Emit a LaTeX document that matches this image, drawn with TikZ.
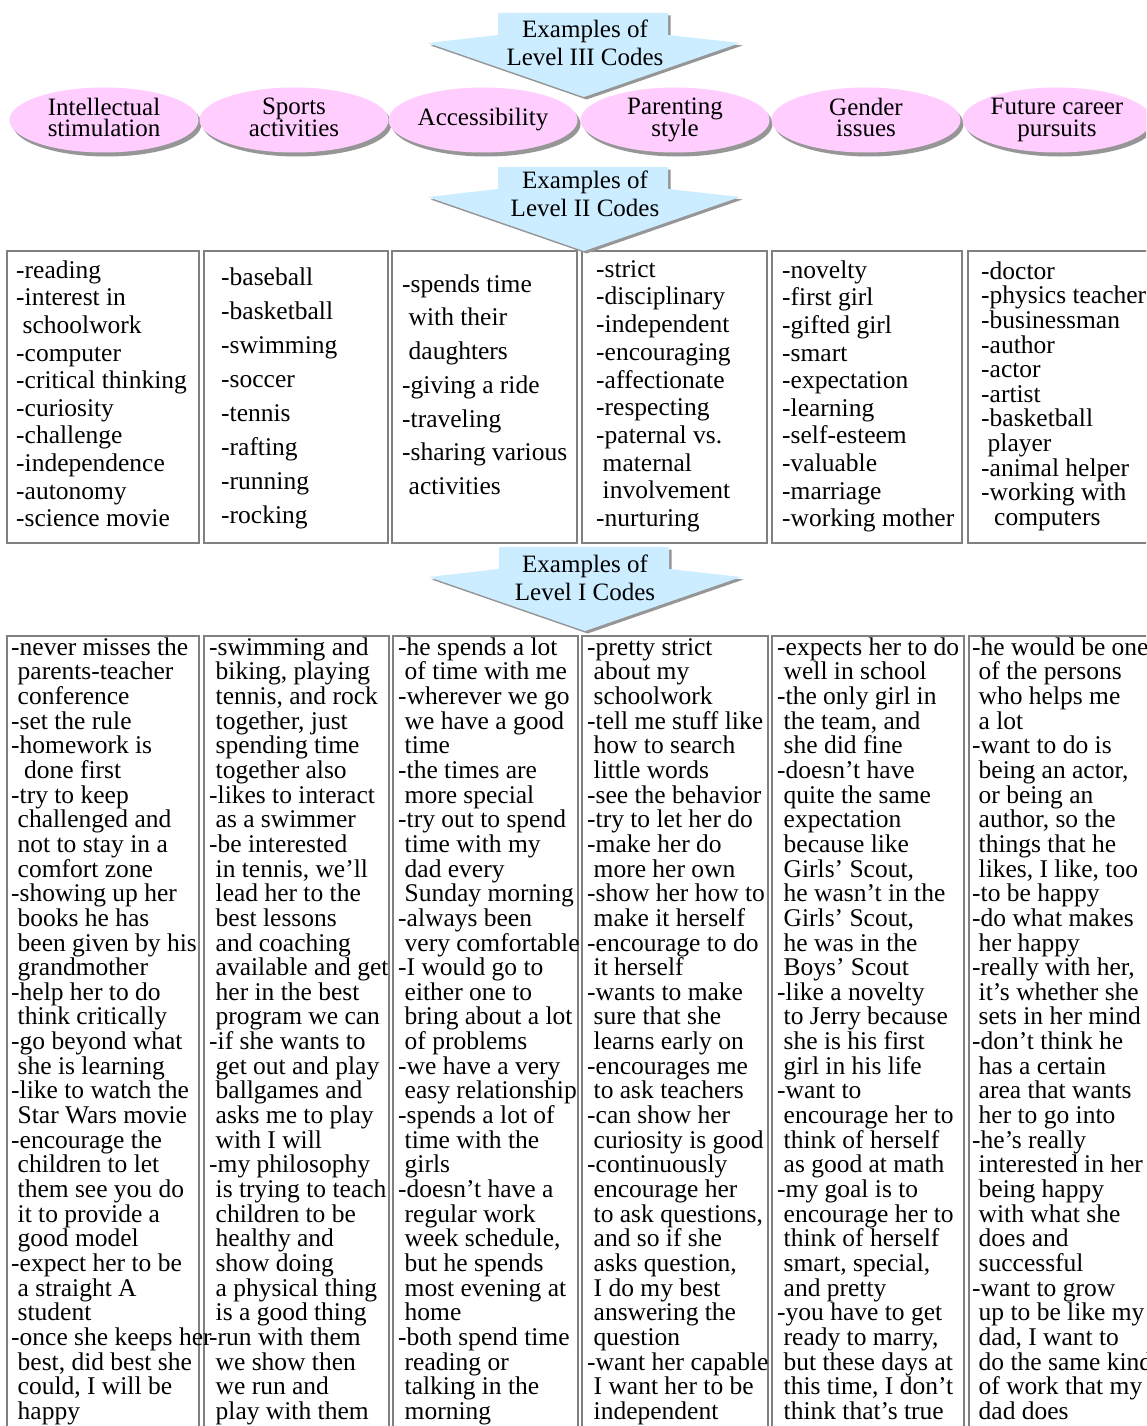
\documentclass[tikz,border=0pt]{standalone}
\usepackage{fontspec}
\setmainfont{Liberation Serif}
\usetikzlibrary{shapes.geometric,shadows}

\definecolor{catpink}{RGB}{255,206,255}
\definecolor{arrowblue}{RGB}{204,236,255}
\definecolor{boxgray}{RGB}{128,128,128}
\definecolor{shadegray}{RGB}{150,150,150}

% fonts: size 25/25.5 with a fixed baseline distance
\newcommand\catfont{\fontsize{25}{21.5}\selectfont\lineskiplimit=-100pt\relax}
\newcommand\headfont{\fontsize{25}{28}\selectfont\lineskiplimit=-100pt\relax}
\newcommand\codefont[1]{\fontsize{25.5}{#1}\selectfont\lineskiplimit=-100pt\relax}
% leading space of a continued line
\newcommand\indsp{\hspace*{6.5pt}}
% first-line strut: the node top lies 20pt above the first baseline
\newcommand\firstline{\rule{0pt}{20pt}}
% common depth for the last line of a category label
\newcommand\lastline{\rule[-5.5pt]{0pt}{0pt}}

\tikzset{
  lvlbox/.style={draw=boxgray, line width=2.5pt},
  codes/.style={anchor=north west, inner sep=0pt, align=left, font={\codefont{#1}}},
  cat/.style={ellipse, fill=catpink, minimum width=189pt, minimum height=65pt,
    inner sep=0pt, align=center, font=\catfont,
    copy shadow={shadow xshift=3pt, shadow yshift=-4pt, fill=shadegray, draw=none}},
  headtext/.style={anchor=north, inner sep=0pt, align=center, font=\headfont},
  levelarrow/.pic={
    \fill[shadegray] (2.5,2.5) -- (172.5,2.5) -- (172.5,24.5) -- (244.5,32.5)
      -- (88.5,86.5) -- (-67.5,32.5) -- (2.5,24.5) -- cycle;
    \fill[arrowblue] (0,0) -- (170,0) -- (170,22) -- (242,30)
      -- (86,84) -- (-70,30) -- (0,22) -- cycle;
  },
}

\begin{document}
\begin{tikzpicture}[x=1pt,y=-1pt]
\useasboundingbox (0,0) rectangle (1146,1426);
\clip (0,0) rectangle (1146,1426);
\fill[white] (0,0) rectangle (1146,1426);

% ---- Level III codes ----
\pic at (498,13) {levelarrow};
\node[headtext] (h3) at (585,17) {\firstline Examples of\\Level III Codes};

\node[cat] (c1) at (104,120) {Intellectual\\stimulation\lastline};
\node[cat] (c2) at (294,120) {Sports\\activities\lastline};
\node[cat] (c3) at (483,120) {Accessibility};
\node[cat] (c4) at (675,120) {Parenting\\style\lastline};
\node[cat] (c5) at (866,120) {Gender\\issues\lastline};
\node[cat] (c6) at (1057,120) {Future career\\pursuits\lastline};

% ---- Level II codes ----
\draw[lvlbox] (7,251) rectangle (199,543);
\draw[lvlbox] (204,251) rectangle (388,543);
\draw[lvlbox] (392,251) rectangle (577,543);
\draw[lvlbox] (582,251) rectangle (767,543);
\draw[lvlbox] (772,251) rectangle (962,543);
\draw[lvlbox] (968,251) rectangle (1170,543);

\pic at (498,167) {levelarrow};
\node[headtext] (h2) at (585,168) {\firstline Examples of\\Level II Codes};

\node[codes=27.6] (b1) at (16,258) {\firstline -reading\\-interest in\\\indsp schoolwork\\-computer\\-critical thinking\\-curiosity\\-challenge\\-independence\\-autonomy\\-science movie};
\node[codes=34] (b2) at (221,265) {\firstline -baseball\\-basketball\\-swimming\\-soccer\\-tennis\\-rafting\\-running\\-rocking};
\node[codes=33.7] (b3) at (402,272) {\firstline -spends time\\\indsp with their\\\indsp daughters\\-giving a ride\\-traveling\\-sharing various\\\indsp activities};
\node[codes=27.7] (b4) at (596,257) {\firstline -strict\\-disciplinary\\-independent\\-encouraging\\-affectionate\\-respecting\\-paternal vs.\\\indsp maternal\\\indsp involvement\\-nurturing};
\node[codes=27.6] (b5) at (782,258) {\firstline -novelty\\-first girl\\-gifted girl\\-smart\\-expectation\\-learning\\-self-esteem\\-valuable\\-marriage\\-working mother};
\node[codes=24.6] (b6) at (981,259) {\firstline -doctor\\-physics teacher\\-businessman\\-author\\-actor\\-artist\\-basketball\\\indsp player\\-animal helper\\-working with\\\indsp\indsp computers};

% ---- Level I codes ----
\draw[lvlbox] (7,636) rectangle (199,1460);
\draw[lvlbox] (204,636) rectangle (389,1460);
\draw[lvlbox] (393,636) rectangle (578,1460);
\draw[lvlbox] (582,636) rectangle (768,1460);
\draw[lvlbox] (772,636) rectangle (964,1460);
\draw[lvlbox] (969,636) rectangle (1170,1460);

\pic at (499,547) {levelarrow};
\node[headtext] (h1) at (585,552) {\firstline Examples of\\Level I Codes};

\node[codes=24.65] (a1) at (11,635) {\firstline -never misses the\\\indsp parents-teacher\\\indsp conference\\-set the rule\\-homework is\\\indsp\indsp done first\\-try to keep\\\indsp challenged and\\\indsp not to stay in a\\\indsp comfort zone\\-showing up her\\\indsp books he has\\\indsp been given by his\\\indsp grandmother\\-help her to do\\\indsp think critically\\-go beyond what\\\indsp she is learning\\-like to watch the\\\indsp Star Wars movie\\-encourage the\\\indsp children to let\\\indsp them see you do\\\indsp it to provide a\\\indsp good model\\-expect her to be\\\indsp a straight A\\\indsp student\\-once she keeps her\\\indsp best, did best she\\\indsp could, I will be\\\indsp happy};

\node[codes=24.65] (a2) at (209,635) {\firstline -swimming and\\\indsp biking, playing\\\indsp tennis, and rock\\\indsp together, just\\\indsp spending time\\\indsp together also\\-likes to interact\\\indsp as a swimmer\\-be interested\\\indsp in tennis, we’ll\\\indsp lead her to the\\\indsp best lessons\\\indsp and coaching\\\indsp available and get\\\indsp her in the best\\\indsp program we can\\-if she wants to\\\indsp get out and play\\\indsp ballgames and\\\indsp asks me to play\\\indsp with I will\\-my philosophy\\\indsp is trying to teach\\\indsp children to be\\\indsp healthy and\\\indsp show doing\\\indsp a physical thing\\\indsp is a good thing\\-run with them\\\indsp we show then\\\indsp we run and\\\indsp play with them};

\node[codes=24.65] (a3) at (398,635) {\firstline -he spends a lot\\\indsp of time with me\\-wherever we go\\\indsp we have a good\\\indsp time\\-the times are\\\indsp more special\\-try out to spend\\\indsp time with my\\\indsp dad every\\\indsp Sunday morning\\-always been\\\indsp very comfortable\\-I would go to\\\indsp either one to\\\indsp bring about a lot\\\indsp of problems\\-we have a very\\\indsp easy relationship\\-spends a lot of\\\indsp time with the\\\indsp girls\\-doesn’t have a\\\indsp regular work\\\indsp week schedule,\\\indsp but he spends\\\indsp most evening at\\\indsp home\\-both spend time\\\indsp reading or\\\indsp talking in the\\\indsp morning};

\node[codes=24.65] (a4) at (587,635) {\firstline -pretty strict\\\indsp about my\\\indsp schoolwork\\-tell me stuff like\\\indsp how to search\\\indsp little words\\-see the behavior\\-try to let her do\\-make her do\\\indsp more her own\\-show her how to\\\indsp make it herself\\-encourage to do\\\indsp it herself\\-wants to make\\\indsp sure that she\\\indsp learns early on\\-encourages me\\\indsp to ask teachers\\-can show her\\\indsp curiosity is good\\-continuously\\\indsp encourage her\\\indsp to ask questions,\\\indsp and so if she\\\indsp asks question,\\\indsp I do my best\\\indsp answering the\\\indsp question\\-want her capable\\\indsp I want her to be\\\indsp independent};

\node[codes=24.65] (a5) at (777,635) {\firstline -expects her to do\\\indsp well in school\\-the only girl in\\\indsp the team, and\\\indsp she did fine\\-doesn’t have\\\indsp quite the same\\\indsp expectation\\\indsp because like\\\indsp Girls’ Scout,\\\indsp he wasn’t in the\\\indsp Girls’ Scout,\\\indsp he was in the\\\indsp Boys’ Scout\\-like a novelty\\\indsp to Jerry because\\\indsp she is his first\\\indsp girl in his life\\-want to\\\indsp encourage her to\\\indsp think of herself\\\indsp as good at math\\-my goal is to\\\indsp encourage her to\\\indsp think of herself\\\indsp smart, special,\\\indsp and pretty\\-you have to get\\\indsp ready to marry,\\\indsp but these days at\\\indsp this time, I don’t\\\indsp think that’s true};

\node[codes=24.65] (a6) at (972,635) {\firstline -he would be one\\\indsp of the persons\\\indsp who helps me\\\indsp a lot\\-want to do is\\\indsp being an actor,\\\indsp or being an\\\indsp author, so the\\\indsp things that he\\\indsp likes, I like, too\\-to be happy\\-do what makes\\\indsp her happy\\-really with her,\\\indsp it’s whether she\\\indsp sets in her mind\\-don’t think he\\\indsp has a certain\\\indsp area that wants\\\indsp her to go into\\-he’s really\\\indsp interested in her\\\indsp being happy\\\indsp with what she\\\indsp does and\\\indsp successful\\-want to grow\\\indsp up to be like my\\\indsp dad, I want to\\\indsp do the same kind\\\indsp of work that my\\\indsp dad does};
\end{tikzpicture}
\end{document}
